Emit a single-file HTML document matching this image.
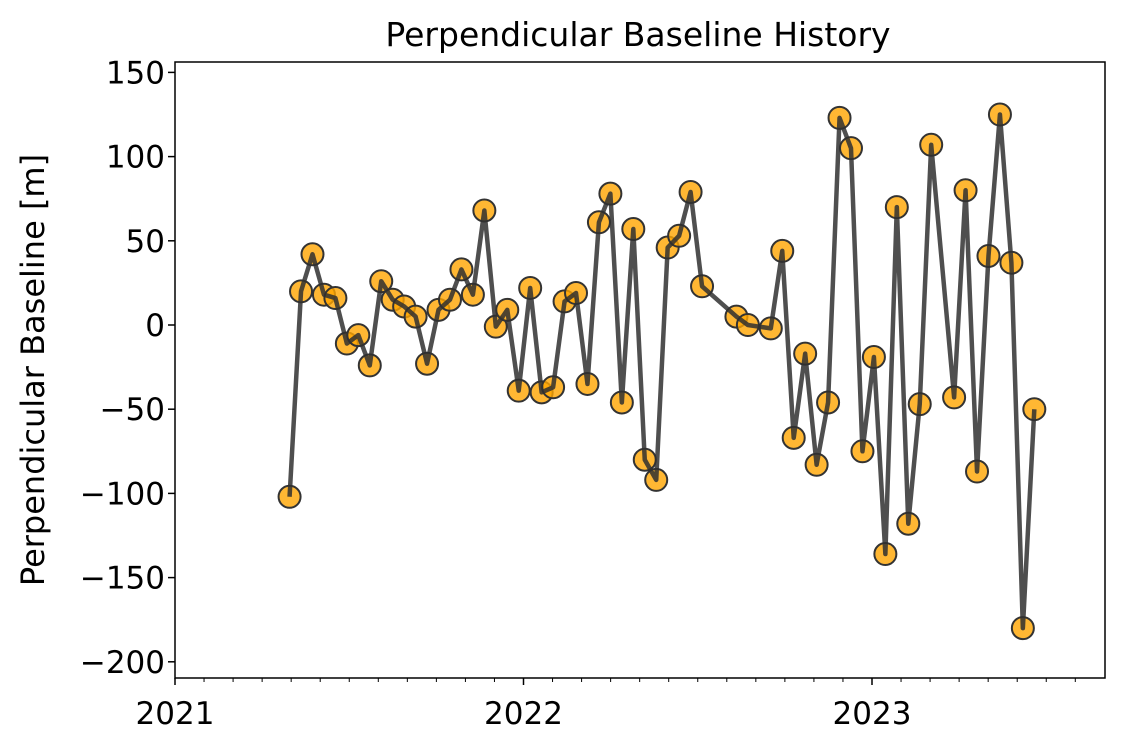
<!DOCTYPE html>
<html><head><meta charset="utf-8"><style>
html,body{margin:0;padding:0;background:#fff;}
svg{display:block;font-family:"DejaVu Sans","Liberation Sans",sans-serif;}
</style></head><body>
<svg id="chart" width="1125" height="750">
<text x="638" y="46" font-size="33" text-anchor="middle">Perpendicular Baseline History</text>
<text transform="translate(44,370) rotate(-90)" font-size="32" text-anchor="middle">Perpendicular Baseline [m]</text>
<g id="ticks"></g>
<g id="series"></g>
<rect x="175" y="62" width="930" height="616" fill="none" stroke="#000" stroke-width="1.5"/>
</svg>
<script>
// days since 2021-01-01 for each acquisition
const days = [120,132,144,156,168,180,192,204,216,228,240,252,264,276,288,300,312,324,336,348,360,372,384,396,408,420,432,444,456,468,480,492,504,516,528,540,552,588,600,624,636,648,660,672,684,696,708,720,732,744,756,768,780,792,816,828,840,852,864,876,888,900];
const baselines = [-102,20,42,18,16,-11,-6,-24,26,15,11,5,-23,9,15,33,18,68,-1,9,-39,22,-40,-37,14,19,-35,61,78,-46,57,-80,-92,46,53,79,23,5,0,-2,44,-67,-17,-83,-46,123,105,-75,-19,-136,70,-118,-47,107,-43,80,-87,41,125,37,-180,-50];
const yTicks = [150,100,50,0,-50,-100,-150,-200];
const xYears = [2021,2022,2023];

const NS="http://www.w3.org/2000/svg";
const L=175,R=1105,T=62,B=678;
const x = d => 175 + d/365*348.5;
const y = v => 325 - v*84.2/50;
const tk=document.getElementById('ticks'), sr=document.getElementById('series');
function mk(tag,attrs,parent){const e=document.createElementNS(NS,tag);for(const k in attrs)e.setAttribute(k,attrs[k]);parent.appendChild(e);return e;}
yTicks.forEach(v=>{
  const l=mk('line',{x1:L-7,x2:L,y1:y(v),y2:y(v),stroke:'#000','stroke-width':1.5},tk);
  
  
  const t=mk('text',{x:L-10,y:y(v)+11,'font-size':31,'text-anchor':'end'},tk);
  t.textContent=(v<0?'\u2212'+(-v):v);
  
  
});
xYears.forEach((yr,i)=>{
  const xp=175+i*348.5;
  const l=mk('line',{x1:xp,x2:xp,y1:B,y2:B+7,stroke:'#000','stroke-width':1.5},tk);
  
  
  const t=mk('text',{x:xp,y:B+46,'font-size':31,'text-anchor':'middle'},tk);
  t.textContent=yr;
  
  
});
for(let m=1;m<32;m++){
  if(m%12===0)continue;
  const xp=175+m*348.5/12;
  if(xp>R)break;
  const l=mk('line',{x1:xp,x2:xp,y1:B,y2:B+4,stroke:'#000','stroke-width':1},tk);
  
  
}
days.forEach((d,i)=>{
  const c=mk('circle',{cx:x(d),cy:y(baselines[i]),r:11,fill:'rgba(255,165,0,0.8)',stroke:'#333','stroke-width':2},sr);
  
  
});
const pl=mk('polyline',{points:days.map((d,i)=>x(d)+','+y(baselines[i])).join(' '),fill:'none',stroke:'#303030','stroke-width':4.5,'stroke-opacity':0.85,'stroke-linejoin':'round'},sr);


</script>
</body></html>
